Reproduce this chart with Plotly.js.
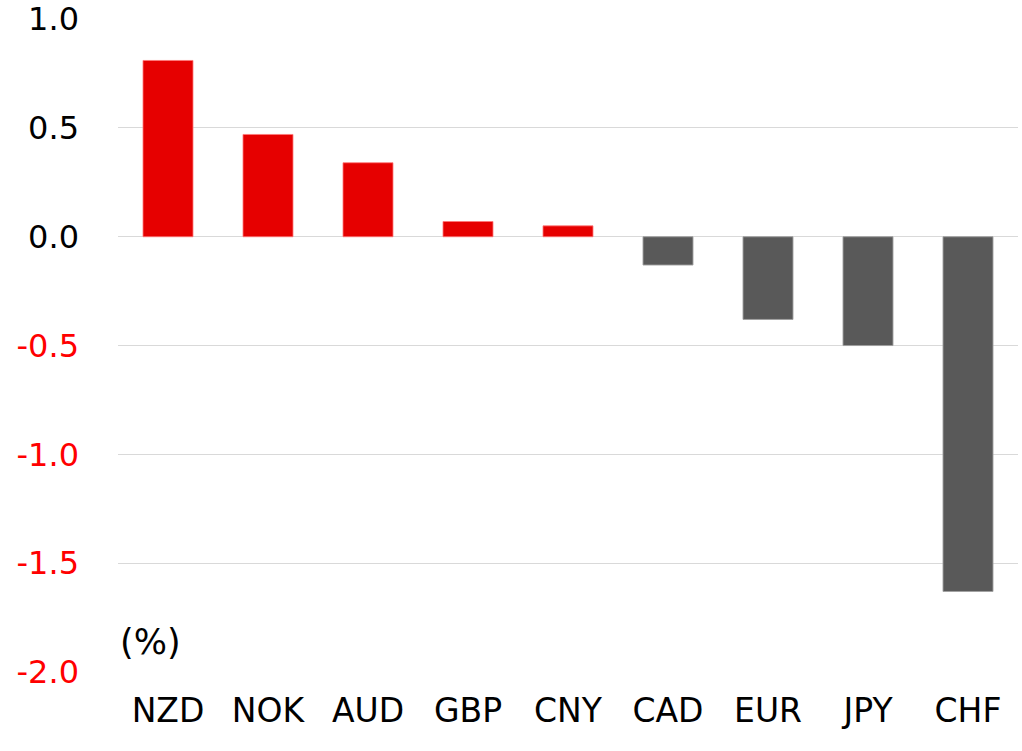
<!DOCTYPE html>
<html>
<head>
<meta charset="utf-8">
<script src="https://cdn.plot.ly/plotly-3.0.1.min.js"></script>
<style>html,body{margin:0;padding:0;background:#fff;}#chart{width:1022px;height:751px;}</style>
</head>
<body>
<div id="chart"></div>
<script>
const currencies = ["NZD", "NOK", "AUD", "GBP", "CNY", "CAD", "EUR", "JPY", "CHF"];
const changes = [0.81, 0.47, 0.34, 0.07, 0.05, -0.13, -0.38, -0.50, -1.63];
const yTickVals = [1.0, 0.5, 0.0, -0.5, -1.0, -1.5, -2.0];
const yTickLabels = ["1.0", "0.5", "0.0", "-0.5", "-1.0", "-1.5", "-2.0"];
const unitLabel = "(%)";

const UP = "#e60000", DOWN = "#595959";
const barColors = changes.map(v => v >= 0 ? UP : DOWN);
const lineColors = changes.map(v => v >= 0 ? "rgba(255,120,120,0.8)" : "rgba(160,160,160,0.9)");
const tickText = yTickVals.map((v, i) => v < 0 ? `<span style="fill:#ff0000">${yTickLabels[i]}</span>` : yTickLabels[i]);

const FONT = "'DejaVu Sans', Verdana, sans-serif";

Plotly.newPlot("chart", [{
  type: "bar",
  x: currencies,
  y: changes,
  marker: {color: barColors, line: {color: lineColors, width: 1}},
  hoverinfo: "x+y"
}], {
  width: 1022, height: 751,
  margin: {l: 118, r: 4, t: 19, b: 79},
  paper_bgcolor: "#fff", plot_bgcolor: "#fff",
  font: {family: FONT, size: 33, color: "#000"},
  bargap: 0.5,
  showlegend: false,
  xaxis: {
    type: "category",
    showgrid: false, zeroline: false, showline: false,
    ticks: "", ticklabelstandoff: 16,
    tickfont: {family: FONT, size: 33, color: "#000"}
  },
  yaxis: {
    range: [-2.0, 1.0005],
    tickvals: yTickVals, ticktext: tickText,
    ticklabeloverflow: "allow",
    showgrid: true, gridcolor: "#d9d9d9", gridwidth: 1,
    zeroline: true, zerolinecolor: "#d9d9d9", zerolinewidth: 1,
    showline: false, ticks: "", ticklabelstandoff: 38,
    tickfont: {family: FONT, size: 32, color: "#000"}
  },
  annotations: [{
    text: unitLabel, xref: "paper", yref: "y", x: 0, y: -1.86,
    xanchor: "left", yanchor: "middle", showarrow: false,
    font: {family: FONT, size: 35, color: "#000"}
  }]
}, {displayModeBar: false, staticPlot: true});
</script>
</body>
</html>
